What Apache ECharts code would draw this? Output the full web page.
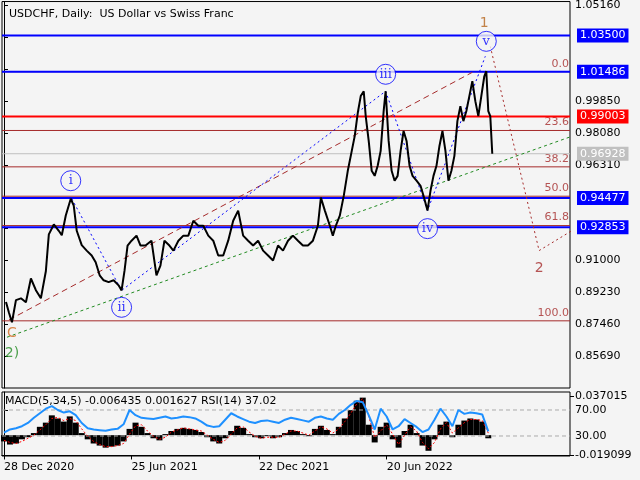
<!DOCTYPE html>
<html><head><meta charset="utf-8">
<script src="https://cdn.jsdelivr.net/npm/echarts@6/dist/echarts.min.js"></script>
<style>html,body{margin:0;padding:0;background:#f4f4f4}#c{width:640px;height:480px}</style>
</head><body><div id="c"></div>
<script>
const priceX = [2,5,8,12,17,22,27,32,37,42,45,50,55,58,62,67,70,73,78,83,88,92,96,100,105,110,115,118,121,124,128,133,137,142,148,153,157,161,166,170,175,180,185,190,195,200,205,210,215,220,225,230,235,240,245,250,255,260,265,270,275,280,285,290,295,300,305,310,315,318,322,327,330,333,337,341,345,349,352,355,358,361,363,366,369,372,375,378,381,383,386,389,392,395,398,401,404,407,410,414,418,421,425,428,431,434,437,440,443,446,449,452,455,458,461,464,467,470,473,476,479,482,484,486,488,490];
const priceY = [0.8870,0.8810,0.8757,0.8880,0.8890,0.8868,0.9000,0.8935,0.8890,0.9040,0.9245,0.9300,0.9265,0.9240,0.9350,0.9443,0.9405,0.9265,0.9185,0.9155,0.9128,0.9090,0.9018,0.8990,0.8980,0.8990,0.8962,0.8934,0.9045,0.9183,0.9210,0.9238,0.9183,0.9183,0.9210,0.9017,0.9072,0.9210,0.9183,0.9155,0.9210,0.9238,0.9238,0.9321,0.9293,0.9293,0.9238,0.9210,0.9128,0.9128,0.9210,0.9321,0.9377,0.9238,0.9210,0.9183,0.9210,0.9155,0.9128,0.9100,0.9183,0.9155,0.9210,0.9238,0.9210,0.9183,0.9183,0.9210,0.9293,0.9449,0.9377,0.9293,0.9238,0.9293,0.9349,0.9460,0.9598,0.9709,0.9792,0.9919,1.0013,1.0040,0.9902,0.9764,0.9598,0.9570,0.9626,0.9709,0.9930,1.0040,0.9764,0.9598,0.9543,0.9570,0.9709,0.9819,0.9764,0.9626,0.9570,0.9543,0.9515,0.9460,0.9377,0.9487,0.9570,0.9626,0.9736,0.9819,0.9709,0.9543,0.9598,0.9681,0.9874,0.9957,0.9874,0.9930,1.0013,1.0096,0.9985,0.9902,1.0013,1.0123,1.0151,0.9930,0.9902,0.9693];
const macdHist = [-0.006,-0.009,-0.008,-0.004,-0.002,0.002,0.008,0.012,0.019,0.016,0.013,0.018,0.012,0.002,-0.004,-0.008,-0.010,-0.012,-0.011,-0.010,-0.006,0.006,0.012,0.008,0.002,-0.003,-0.005,0.001,0.004,0.006,0.007,0.006,0.005,0.003,-0.002,-0.006,-0.008,-0.003,0.004,0.009,0.007,0.001,-0.002,-0.003,-0.001,-0.003,-0.002,0.002,0.005,0.004,0.001,-0.001,0.006,0.009,0.005,0.001,0.008,0.016,0.024,0.033,0.036,0.010,-0.007,0.008,0.012,-0.004,-0.012,0.004,0.010,0.002,-0.010,-0.015,-0.004,0.010,0.013,-0.002,0.010,0.014,0.016,0.015,0.013,-0.003];
const macdSignal = [-0.005,-0.007,-0.008,-0.006,-0.003,0.000,0.005,0.010,0.016,0.017,0.014,0.016,0.014,0.006,-0.001,-0.006,-0.009,-0.011,-0.011,-0.010,-0.008,0.001,0.009,0.010,0.004,-0.001,-0.004,-0.002,0.003,0.005,0.007,0.006,0.005,0.004,0.000,-0.004,-0.007,-0.005,0.001,0.007,0.008,0.003,-0.001,-0.003,-0.002,-0.002,-0.002,0.001,0.004,0.004,0.002,0.000,0.004,0.008,0.006,0.002,0.006,0.013,0.021,0.030,0.035,0.018,-0.002,0.004,0.010,0.001,-0.009,0.000,0.008,0.004,-0.007,-0.013,-0.007,0.006,0.012,0.002,0.007,0.012,0.015,0.015,0.014,0.002];
const rsi = [35,40,42,45,50,58,65,72,76,70,66,68,62,50,42,40,39,38,40,41,48,70,62,58,57,56,58,60,57,58,60,59,57,52,46,44,45,55,65,60,56,52,50,53,54,52,50,55,58,56,54,52,58,60,57,55,64,70,78,84,82,62,40,72,60,40,45,56,50,44,36,40,55,72,60,45,70,64,66,65,63,37];
const dateTicks = [0,128,256,384];
const dateLabels = ['28 Dec 2020','25 Jun 2021','22 Dec 2021','20 Jun 2022'];
const priceTicks = [1.0516,1.0339,1.0162,0.9985,0.9808,0.9631,0.9454,0.9277,0.9100,0.8923,0.8746,0.8569];
const priceTickLabels = [1.0516,0.9985,0.9808,0.9631,0.9100,0.8923,0.8746,0.8569];
const blueLevels = [1.0350,1.01486,0.94477,0.92853];
const redLevel = 0.99003, lastPrice = 0.96928;
const fibLevels = [1.01486,0.9822,0.9620,0.9457,0.9294,0.8765];
const fibNames = ['0.0','23.6','38.2','50.0','61.8','100.0'];
const trendRed = [[5,0.8770],[470,1.0145]];
const trendGreen = [[3,0.8674],[568,0.9786]];
const waveBlue = [[68,0.9443],[118,0.8934],[383,1.0040],[425,0.9377],[483,1.0234]];
const projection = [[488,1.0289],[537,0.9155],[570,0.9266]];
const waveCircles = [['i',67,0.9543],['ii',118,0.8840],['iii',383,1.0134],['iv',425,0.9277],['v',484,1.0317]];
const waveTexts = [['1',482,1.0416,'#b5651d'],['2',537,0.9056,'#a52a2a'],['C',8,0.8697,'#d2691e'],['2)',8,0.8586,'#228b22']];

const F = 'DejaVu Sans';
const fmt = v => v.toFixed(5);
const xs = macdHist.map((_, i) => i * 6);
const X0 = -2, X1 = 568;
function level(v, color, width, label) {
  const s = {type:'line',xAxisIndex:0,yAxisIndex:0,data:[[X0,v],[X1,v]],symbol:'none',silent:true,
    lineStyle:{color,width,type:'solid'},z:3};
  if (label) s.endLabel = {show:true, formatter:label.text, backgroundColor:label.bg, color:'#fff',
    fontFamily:F, fontSize:11, padding:[2,3,1,3], distance:7};
  return s;
}
const levelSeries = [];
fibLevels.forEach(v=>levelSeries.push(level(v,'#a52a2a',1)));
levelSeries.push(level(lastPrice,'#c0c0c0',1,{text:fmt(lastPrice),bg:'#c0c0c0'}));
blueLevels.forEach(v=>levelSeries.push(level(v,'#0000ff',2,{text:fmt(v),bg:'#0000ff'})));
levelSeries.push(level(redLevel,'#ff0000',2,{text:fmt(redLevel),bg:'#ff0000'}));

const ch = echarts.init(document.getElementById('c'));
ch.setOption({
  backgroundColor:'#f4f4f4', animation:false,
  title:{text:'USDCHF, Daily:  US Dollar vs Swiss Franc', left:4, top:4, textStyle:{fontFamily:F,fontSize:11,fontWeight:'normal',color:'#000'}},
  graphic:[{type:'text', left:5, top:396, style:{text:'MACD(5,34,5) -0.006435 0.001627 RSI(14) 37.02', font:'11px "DejaVu Sans"', fill:'#000'}}],
  grid:[{left:2,right:70,top:0,bottom:92,show:true,borderColor:'#000',borderWidth:1},
        {left:2,right:70,top:392,bottom:24,show:true,borderColor:'#000',borderWidth:1}],
  xAxis:[{gridIndex:0,type:'value',min:X0,max:X1,show:false},
         {gridIndex:1,type:'value',min:X0,max:X1,splitLine:{show:false},axisLine:{lineStyle:{color:'#000'}},
          axisTick:{show:true,customValues:dateTicks,length:4,lineStyle:{color:'#000'}},
          axisLabel:{customValues:dateTicks,formatter:v=>dateLabels[dateTicks.indexOf(v)],align:'left',fontFamily:F,fontSize:11,color:'#000',margin:6}}],
  yAxis:[{gridIndex:0,type:'value',position:'right',min:0.8392,max:1.0538,splitLine:{show:false},
          axisLine:{show:true,lineStyle:{color:'#000'}},
          axisTick:{show:true,customValues:priceTicks,length:4,lineStyle:{color:'#000'}},
          axisLabel:{customValues:priceTickLabels,formatter:v=>v.toFixed(5),fontFamily:F,fontSize:11,color:'#000',margin:5}},
         {gridIndex:1,type:'value',position:'right',min:-0.8,max:97.7,
          splitLine:{show:false},axisLine:{show:true,lineStyle:{color:'#000'}},
          axisTick:{show:true,customValues:[70,30],length:4,lineStyle:{color:'#000'}},
          axisLabel:{customValues:[70,30],formatter:v=>v.toFixed(2),fontFamily:F,fontSize:11,color:'#000',margin:5}},
         {gridIndex:1,type:'value',position:'right',min:-0.020,max:0.0414,
          splitLine:{show:false},axisLine:{show:false},
          axisTick:{show:true,customValues:[0.037015,-0.019099],length:4,lineStyle:{color:'#000'}},
          axisLabel:{customValues:[0.037015,-0.019099],formatter:v=>v.toFixed(6),fontFamily:F,fontSize:11,color:'#000',margin:5}}],
  series:[
    ...levelSeries,
    {type:'scatter',xAxisIndex:0,yAxisIndex:0,data:fibLevels.map((v,i)=>({value:[567,v],label:{formatter:fibNames[i]}})),
     symbolSize:0,silent:true,label:{show:true,position:'left',offset:[0,-8],color:'#a52a2a',fontFamily:F,fontSize:11,distance:0}},
    {type:'line',xAxisIndex:0,yAxisIndex:0,data:trendGreen,symbol:'none',lineStyle:{color:'#228b22',width:1,type:[3,3]},silent:true},
    {type:'line',xAxisIndex:0,yAxisIndex:0,data:trendRed,symbol:'none',lineStyle:{color:'#a52a2a',width:1,type:[6,4]},silent:true},
    {type:'line',xAxisIndex:0,yAxisIndex:0,data:waveBlue,symbol:'none',lineStyle:{color:'#0000ff',width:1,type:[2,3]},silent:true},
    {type:'line',xAxisIndex:0,yAxisIndex:0,data:projection,symbol:'none',lineStyle:{color:'#a52a2a',width:1,type:[2,3]},silent:true},
    {type:'line',xAxisIndex:0,yAxisIndex:0,data:priceX.map((x,i)=>[x,priceY[i]]),symbol:'none',
     lineStyle:{color:'#000',width:2},z:5},
    {type:'scatter',xAxisIndex:0,yAxisIndex:0,data:waveCircles.map(w=>({value:[w[1],w[2]],label:{formatter:w[0]}})),
     symbol:'circle',symbolSize:20,itemStyle:{color:'#f4f4f4',borderColor:'#0000ff',borderWidth:1},z:6,
     label:{show:true,position:'inside',color:'#0000ff',fontFamily:'DejaVu Serif',fontSize:13}},
    {type:'scatter',xAxisIndex:0,yAxisIndex:0,data:waveTexts.map(w=>({value:[w[1],w[2]],label:{formatter:w[0],color:w[3]}})),
     symbolSize:0,label:{show:true,position:'inside',fontFamily:F,fontSize:14},z:6},
    {type:'line',xAxisIndex:1,yAxisIndex:1,data:[[X0,70],[X1,70]],symbol:'none',lineStyle:{color:'#aaa',width:1,type:[4,3]},silent:true},
    {type:'line',xAxisIndex:1,yAxisIndex:1,data:[[X0,30],[X1,30]],symbol:'none',lineStyle:{color:'#aaa',width:1,type:[4,3]},silent:true},
    {type:'bar',xAxisIndex:1,yAxisIndex:2,data:xs.map((x,i)=>[x,macdHist[i]]),barWidth:6,itemStyle:{color:'#000'}},
    {type:'line',xAxisIndex:1,yAxisIndex:2,data:xs.map((x,i)=>[x,macdSignal[i]]),symbol:'none',lineStyle:{color:'#ff0000',width:1,type:[2,2]}},
    {type:'line',xAxisIndex:1,yAxisIndex:1,data:xs.map((x,i)=>[x,rsi[i]]),symbol:'none',lineStyle:{color:'#1e90ff',width:2}}
  ]
});
</script></body></html>
